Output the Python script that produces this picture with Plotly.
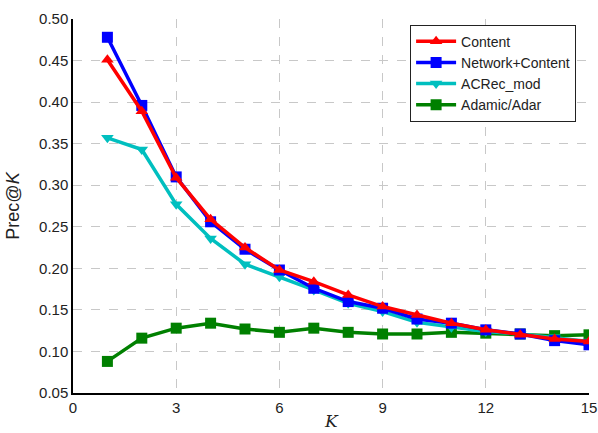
import plotly.graph_objects as go

K = list(range(1, 16))
content = [0.451, 0.389, 0.309, 0.259, 0.225, 0.198, 0.184, 0.168, 0.154, 0.144, 0.134, 0.126, 0.120, 0.115, 0.112]
net_content = [0.478, 0.396, 0.310, 0.256, 0.223, 0.198, 0.176, 0.160, 0.152, 0.139, 0.134, 0.126, 0.121, 0.113, 0.108]
acrec = [0.357, 0.343, 0.277, 0.236, 0.205, 0.190, 0.174, 0.158, 0.148, 0.135, 0.129, 0.124, 0.121, 0.117, 0.112]
adamic = [0.088, 0.116, 0.128, 0.134, 0.127, 0.123, 0.128, 0.123, 0.121, 0.121, 0.123, 0.122, 0.121, 0.119, 0.120]

series = [
    ("Adamic/Adar", adamic, "#008000", "square", 4),
    ("ACRec_mod", acrec, "#00BFBF", "triangle-down", 3),
    ("Network+Content", net_content, "#0000FF", "square", 2),
    ("Content", content, "#FF0000", "triangle-up", 1),
]

fig = go.Figure()
for name, vals, color, sym, rank in series:
    fig.add_trace(go.Scatter(
        x=K, y=vals, name=name, mode="lines+markers",
        line=dict(color=color, width=3.5),
        marker=dict(symbol=sym, size=11, color=color, line=dict(width=0)),
        legendrank=rank,
    ))

fig.update_layout(
    width=598, height=433,
    margin=dict(l=73, r=9, t=19, b=40),
    paper_bgcolor="white", plot_bgcolor="white",
    font=dict(family="Liberation Sans, Arial, sans-serif", size=15, color="#222"),
    showlegend=True,
    legend=dict(
        x=0.975, y=0.985, xanchor="right", yanchor="top",
        bgcolor="white", bordercolor="#222", borderwidth=1,
        font=dict(size=14), tracegroupgap=0, itemwidth=40,
    ),
    annotations=[dict(
        text="<i>K</i>", x=0.5, y=0, xref="paper", yref="paper",
        xanchor="center", yanchor="bottom", yshift=-39, borderpad=0, showarrow=False,
        font=dict(size=17, family="DejaVu Serif, serif", color="#222"),
    )],
)
fig.update_xaxes(
    range=[0, 15], tickvals=[0, 3, 6, 9, 12, 15],
    showgrid=True, gridcolor="#c8c8c8", griddash="dash", gridwidth=1,
    showline=True, linecolor="black", linewidth=1.5, zeroline=False,
    ticks="", ticklabeloverflow="allow", automargin=False,
)
fig.update_yaxes(
    range=[0.05, 0.50], tickvals=[0.05, 0.10, 0.15, 0.20, 0.25, 0.30, 0.35, 0.40, 0.45, 0.50],
    tickformat=".2f",
    showgrid=True, gridcolor="#c8c8c8", griddash="dash", gridwidth=1,
    showline=True, linecolor="black", linewidth=1.5, zeroline=False,
    ticks="", ticklabeloverflow="allow", automargin=False,
    title=dict(text="Prec@<i>K</i>", font=dict(size=18)),
)

fig.write_html("out.html")
